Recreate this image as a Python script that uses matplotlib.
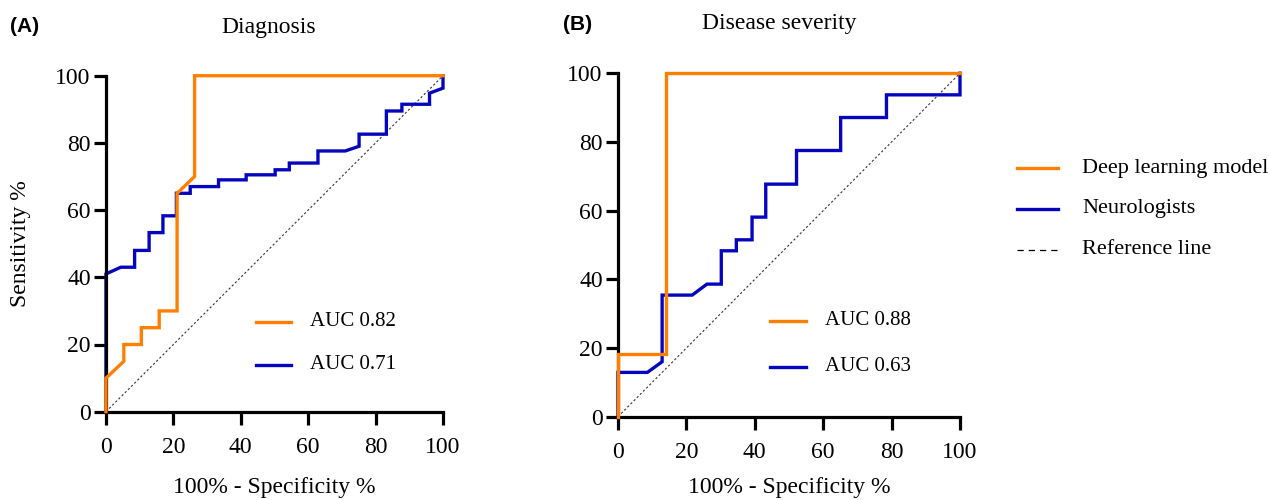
"""Two-panel ROC comparison: deep learning model vs neurologists."""
import matplotlib
matplotlib.use("Agg")
import matplotlib.pyplot as plt
from matplotlib.lines import Line2D

ORANGE = "#FF8000"
BLUE = "#0505C0"

# Panel A: diagnosis
diag_model_x = [0, 0, 5.3, 5.3, 10.5, 10.5, 15.8, 15.8, 21.1, 21.1, 26.3, 26.3, 100]
diag_model_y = [0, 10, 15, 20, 20, 25, 25, 30, 30, 65, 70, 100, 100]
diag_neuro_x = [0, 0, 4.4, 8.5, 8.5, 12.8, 12.8, 16.9, 16.9, 20.9, 20.9, 25.0, 25.0,
                33.4, 33.4, 41.6, 41.6, 50.2, 50.2, 54.4, 54.4, 62.9, 62.9, 71.0,
                75.1, 75.1, 83.2, 83.2, 87.8, 87.8, 96.0, 96.0, 100, 100]
diag_neuro_y = [0, 41, 43, 43, 48, 48, 53.3, 53.3, 58.3, 58.3, 65, 65, 67,
                67, 69, 69, 70.5, 70.5, 72, 72, 74, 74, 77.6, 77.6,
                79, 82.6, 82.6, 89.5, 89.5, 91.5, 91.5, 94.8, 96.3, 100]

# Panel B: disease severity
sev_model_x = [0, 0, 14.1, 14.1, 100]
sev_model_y = [0, 18.2, 18.2, 100, 100]
sev_neuro_x = [0, 0, 8.6, 12.9, 12.9, 21.7, 26.0, 30.2, 30.2, 34.6, 34.6, 39.2, 39.2,
               43.2, 43.2, 52.2, 52.2, 65.1, 65.1, 78.5, 78.5, 100, 100]
sev_neuro_y = [0, 12.9, 12.9, 16.0, 35.4, 35.4, 38.6, 38.6, 48.3, 48.3, 51.5, 51.5, 58.1,
               58.1, 67.7, 67.7, 77.5, 77.5, 87.1, 87.1, 93.7, 93.7, 100]

auc_diag = ["AUC 0.82", "AUC 0.71"]
auc_sev = ["AUC 0.88", "AUC 0.63"]
series_names = ["Deep learning model", "Neurologists", "Reference line"]
ticks = [0, 20, 40, 60, 80, 100]

SERIF = "Liberation Serif"
plt.rcParams.update({
    "font.family": SERIF,
    "font.size": 17,
})

fig = plt.figure(figsize=(12.69, 5.0), dpi=100)
ax_a = fig.add_axes([0.0835, 0.1766, 0.2656, 0.672])
ax_b = fig.add_axes([0.487, 0.1666, 0.2695, 0.687])


def style(ax):
    ax.set_xlim(0, 100)
    ax.set_ylim(0, 100)
    ax.set_xticks(ticks)
    ax.set_yticks(ticks)
    for side in ("top", "right"):
        ax.spines[side].set_visible(False)
    for side in ("left", "bottom"):
        ax.spines[side].set_linewidth(2.3)
    ax.tick_params(width=2.3, length=9, direction="out", labelsize=17)
    ax.tick_params(axis="x", pad=9)
    ax.tick_params(axis="y", pad=2)
    ax.set_xlabel("100% - Specificity %", fontsize=17)


def draw(ax, mx, my, nx, ny, aucs, leg_y):
    ax.plot([0, 100], [0, 100], color="#333333", lw=0.8, ls=(0, (2, 2)),
            clip_on=False, zorder=1)
    ax.plot(nx, ny, color=BLUE, lw=2.4, clip_on=False, zorder=2,
            solid_joinstyle="miter")
    ax.plot(mx, my, color=ORANGE, lw=2.4, clip_on=False, zorder=3,
            solid_joinstyle="miter")
    for col, txt, yy in zip([ORANGE, BLUE], aucs, leg_y):
        ax.plot([44.5, 55], [yy, yy], color=col, lw=2.4, clip_on=False)
        ax.text(60.5, yy, txt, fontsize=15, va="center", ha="left")


style(ax_a)
style(ax_b)
ax_a.set_ylabel("Sensitivity %", fontsize=17)
ax_a.yaxis.set_label_coords(-0.222, 0.5)
ax_a.xaxis.set_label_coords(0.5, -0.195)
ax_b.xaxis.set_label_coords(0.5, -0.175)

draw(ax_a, diag_model_x, diag_model_y, diag_neuro_x, diag_neuro_y, auc_diag, [26.8, 14.0])
draw(ax_b, sev_model_x, sev_model_y, sev_neuro_x, sev_neuro_y, auc_sev, [28.0, 14.6])

# titles and panel letters
fig.text(269 / 1269, 1 - 28 / 500, "Diagnosis", fontsize=17, ha="center", va="center")
fig.text(779 / 1269, 1 - 23 / 500, "Disease severity", fontsize=17, ha="center", va="center")
fig.text(10 / 1269, 1 - 27 / 500, "(A)", fontsize=15, fontweight="bold",
         family="Liberation Sans", ha="left", va="center")
fig.text(563 / 1269, 1 - 24 / 500, "(B)", fontsize=15, fontweight="bold",
         family="Liberation Sans", ha="left", va="center")

# shared legend on the right
leg_rows = [(ORANGE, "-", 2.4, 168), (BLUE, "-", 2.4, 209), ("black", (0, (5, 4)), 0.9, 250)]
for (col, ls, lw, py), name in zip(leg_rows, series_names):
    yf = 1 - py / 500
    fig.add_artist(Line2D([1017 / 1269, 1058 / 1269], [yf, yf], color=col,
                          ls=ls, lw=lw, transform=fig.transFigure))
    fig.text(1082 / 1269, yf, name, fontsize=16, ha="left", va="center")

fig.savefig("out.png", dpi=100)
